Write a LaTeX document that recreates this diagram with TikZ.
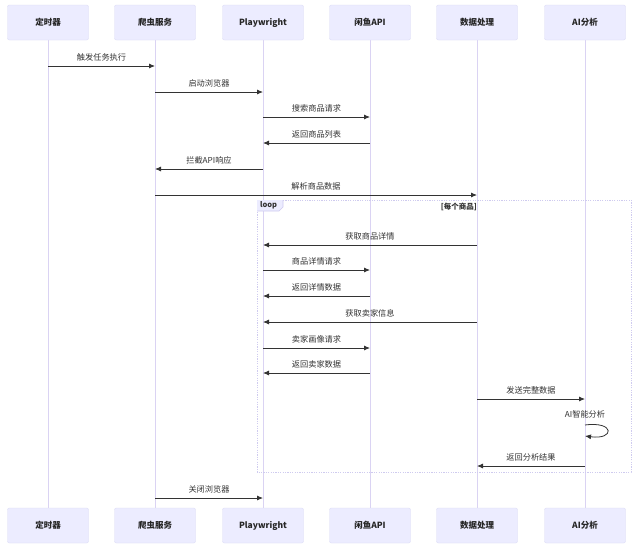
\documentclass[tikz,border=0pt]{standalone}
\usepackage{fontspec}
\setmainfont{Noto Sans CJK SC}
\usetikzlibrary{arrows.meta,calc}
\definecolor{actfill}{HTML}{ECECFF}
\definecolor{actdraw}{HTML}{DCDCF6}
\definecolor{lifecol}{HTML}{DAD3F3}
\definecolor{msgcol}{HTML}{333333}
\definecolor{loopcol}{HTML}{CFCBEF}
\begin{document}
\begin{tikzpicture}[x=1pt,y=-1pt,
  actor/.style={draw=actdraw,fill=actfill,rounded corners=2pt,minimum width=81pt,minimum height=35pt,inner sep=0pt,font=\fontsize{8.5}{10}\selectfont\bfseries,text=black!85},
  lifeline/.style={draw=lifecol,line width=0.8pt},
  msg/.style={draw=msgcol,line width=0.8pt,-{Latex[length=6pt,width=5pt]}},
  lbl/.style={font=\fontsize{8.2}{10}\selectfont,text=black!80,inner sep=1pt,anchor=south}]
\useasboundingbox (0,0) rectangle (640,554);
\fill[white] (0,0) rectangle (640,554);
% lifeline coordinates
\foreach \n/\x in {a/48,b/155,c/263,d/370,e/477,f/585}{
  \coordinate (\n top) at (\x,40);
  \coordinate (\n bot) at (\x,508);
}
\foreach \n in {a,b,c,d,e,f}{ \draw[lifeline] (\n top) -- (\n bot); }
% actors
\foreach \n/\x/\t in {a/48/定时器,b/155/爬虫服务,c/263/Playwright,d/370/闲鱼API,e/477/数据处理,f/585/AI分析}{
  \node[actor] (\n T) at (\x,22.5) {\t};
  \node[actor] (\n B) at (\x,525.5) {\t};
}
% loop frame
\coordinate (L1) at (257,200);
\coordinate (L2) at (631,472);
\draw[loopcol,line width=0.7pt,dash pattern=on 1.2pt off 1.2pt] (L1) rectangle (L2);
\fill[actfill] (257,200) -- (283,200) -- (283,207) -- (279,211) -- (257,211) -- cycle;
\draw[loopcol,line width=0.6pt] (257,211) -- (279,211) -- (283,207) -- (283,200);
\node[font=\fontsize{7.5}{9}\selectfont\bfseries,text=black!80,anchor=west,inner sep=0pt] (looplbl) at (260,205.5) {loop};
\node[font=\fontsize{7.5}{9}\selectfont\bfseries,text=black!80,anchor=east,inner sep=0pt] (loopcond) at (477,207) {[每个商品]};
% messages
\foreach \i/\fx/\tx/\y/\t in {1/48/155/66/触发任务执行, 2/155/263/92/启动浏览器, 3/263/370/117/搜索商品请求, 4/370/263/143/返回商品列表, 5/263/155/169/拦截API响应, 6/155/477/195/解析商品数据, 7/477/263/245/获取商品详情, 8/263/370/270/商品详情请求, 9/370/263/296/返回详情数据, 10/477/263/322/获取卖家信息, 11/263/370/348/卖家画像请求, 12/370/263/373/返回卖家数据, 13/477/585/399/发送完整数据, 15/585/477/466/返回分析结果, 16/155/263/498/关闭浏览器}{
  \coordinate (s\i) at (\fx,\y);
  \coordinate (t\i) at (\tx,\y);
  \draw[msg] (s\i) -- (t\i);
  \node[lbl] (m\i) at ($(s\i)!0.5!(t\i)+(0,-4)$) {\t};
}
% self message
\coordinate (s14) at (585,425);
\coordinate (t14) at (585,436);
\draw[msg] (s14) .. controls (615,421) and (615,440) .. (t14);
\node[lbl] (m14) at (585,419) {AI智能分析};
\end{tikzpicture}
\end{document}
